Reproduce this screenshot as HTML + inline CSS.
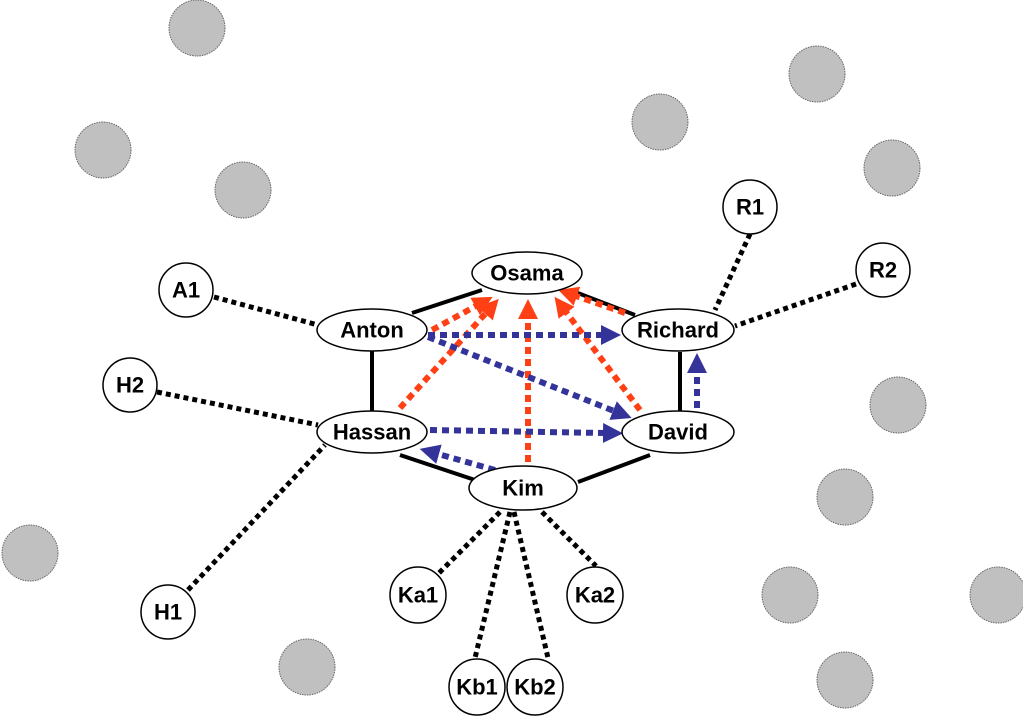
<!DOCTYPE html>
<html><head><meta charset="utf-8"><style>body{margin:0;background:#fff}svg{display:block}text{font-family:"Liberation Sans",sans-serif;font-weight:bold;font-size:22px;text-anchor:middle;dominant-baseline:central}</style></head>
<body>
<svg width="1023" height="716" viewBox="0 0 1023 716">
<defs>
<marker id="r" markerWidth="20" markerHeight="20" refX="1" refY="10" orient="auto" markerUnits="userSpaceOnUse" viewBox="0 0 20 20"><path d="M0,0 L20,10 L0,20z" fill="#ff3f14"/></marker>
<marker id="b" markerWidth="20" markerHeight="20" refX="1" refY="10" orient="auto" markerUnits="userSpaceOnUse" viewBox="0 0 20 20"><path d="M0,0 L20,10 L0,20z" fill="#33339a"/></marker>
</defs>
<g fill="#c0c0c0" stroke="#666" stroke-width="1" stroke-dasharray="1.5 1">
<circle cx="197" cy="28" r="28"/><circle cx="817" cy="74" r="28"/><circle cx="103" cy="150" r="28"/><circle cx="243" cy="190" r="28"/><circle cx="660" cy="122" r="28"/><circle cx="892" cy="168" r="28"/><circle cx="898" cy="405" r="28"/><circle cx="845" cy="497" r="28"/><circle cx="790" cy="595" r="28"/><circle cx="998" cy="595" r="28"/><circle cx="30" cy="553" r="28"/><circle cx="307" cy="667" r="28"/><circle cx="845" cy="680" r="28"/>
</g>
<g stroke="#000" stroke-width="5" stroke-dasharray="5 4" fill="none">
<line x1="750" y1="234" x2="715" y2="310"/><line x1="856" y1="284" x2="735" y2="326"/><line x1="214" y1="297" x2="318" y2="325"/><line x1="157" y1="392" x2="318" y2="425"/><line x1="188" y1="590" x2="325" y2="445"/>
<line x1="500" y1="512" x2="437" y2="575"/><line x1="510" y1="512" x2="475" y2="658"/><line x1="514" y1="512" x2="548" y2="658"/><line x1="542" y1="512" x2="596" y2="566"/>
</g>
<g stroke="#000" stroke-width="4">
<line x1="482" y1="290" x2="412" y2="313"/><line x1="570" y1="290" x2="635" y2="315"/><line x1="372" y1="350" x2="372" y2="412"/><line x1="680" y1="352" x2="680" y2="412"/><line x1="400" y1="455" x2="475" y2="480"/><line x1="578" y1="482" x2="650" y2="455"/>
</g>
<g stroke="#ff3f14" stroke-width="6" stroke-dasharray="7 5" fill="none">
<line x1="400" y1="408" x2="486" y2="313" marker-end="url(#r)"/><line x1="432" y1="330" x2="476" y2="306" marker-end="url(#r)"/><line x1="528" y1="462" x2="528" y2="318" marker-end="url(#r)"/><line x1="640" y1="410" x2="566" y2="312" marker-end="url(#r)"/><line x1="625" y1="313" x2="576" y2="296" marker-end="url(#r)"/>
</g>
<g stroke="#33339a" stroke-width="6" stroke-dasharray="7 5" fill="none">
<line x1="428" y1="335" x2="602" y2="335" marker-end="url(#b)"/><line x1="428" y1="337" x2="614" y2="411" marker-end="url(#b)"/><line x1="430" y1="430" x2="604" y2="433" marker-end="url(#b)"/><line x1="495" y1="470" x2="438" y2="454" marker-end="url(#b)"/><line x1="697" y1="408" x2="697" y2="372" marker-end="url(#b)"/>
</g>
<g fill="#fff" stroke="#000" stroke-width="1.5">
<ellipse cx="527" cy="273" rx="55" ry="21"/><ellipse cx="372" cy="330" rx="55" ry="21"/><ellipse cx="678" cy="330" rx="56" ry="21"/><ellipse cx="372" cy="432" rx="55" ry="21"/><ellipse cx="678" cy="432" rx="56" ry="21"/><ellipse cx="523" cy="488" rx="54" ry="22"/>
<circle cx="750" cy="207" r="27"/><circle cx="883" cy="270" r="27"/><circle cx="186" cy="290" r="27"/><circle cx="130" cy="385" r="27"/><circle cx="168" cy="612" r="27"/><circle cx="418" cy="595" r="28"/><circle cx="595" cy="595" r="28"/><circle cx="477" cy="687" r="28"/><circle cx="535" cy="687" r="28"/>
</g>
<g fill="#000">
<text x="527" y="273">Osama</text><text x="372" y="330">Anton</text><text x="678" y="330">Richard</text><text x="372" y="432">Hassan</text><text x="678" y="432">David</text><text x="523" y="488">Kim</text>
<text x="750" y="207">R1</text><text x="883" y="270">R2</text><text x="186" y="290">A1</text><text x="130" y="385">H2</text><text x="168" y="612">H1</text><text x="418" y="595">Ka1</text><text x="595" y="595">Ka2</text><text x="477" y="687">Kb1</text><text x="535" y="687">Kb2</text>
</g>
</svg>
</body></html>
